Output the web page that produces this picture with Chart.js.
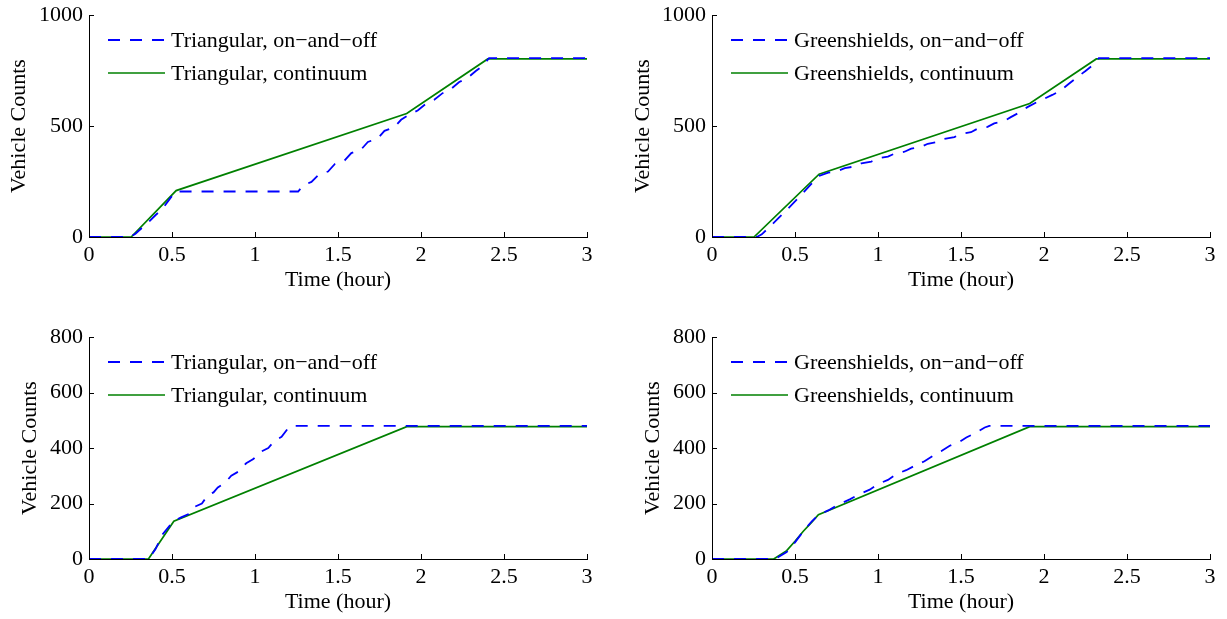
<!DOCTYPE html>
<html>
<head>
<meta charset="utf-8">
<title>Vehicle Counts</title>
<script src="https://cdn.jsdelivr.net/npm/chart.js@4.4.0/dist/chart.umd.min.js"></script>
<style>
  body{margin:0;background:#fff}
  #wrap{position:relative;width:1227px;height:619px;overflow:hidden;background:#fff}
  canvas{position:absolute}
</style>
</head>
<body>
<div id="wrap">
  <canvas id="tl" width="604" height="297" style="left:0;top:0"></canvas>
  <canvas id="tr" width="604" height="297" style="left:623px;top:0"></canvas>
  <canvas id="bl" width="604" height="297" style="left:0;top:322px"></canvas>
  <canvas id="br" width="604" height="297" style="left:623px;top:322px"></canvas>
</div>
<script>
// ---- data: [time (hour), vehicle count] ----
const xTicks = [0, 0.5, 1, 1.5, 2, 2.5, 3];
const yTicksTop = [0, 500, 1000];
const yTicksBottom = [0, 200, 400, 600, 800];

const labelsTri = ['Triangular, on\u2212and\u2212off', 'Triangular, continuum'];
const labelsGreen = ['Greenshields, on\u2212and\u2212off', 'Greenshields, continuum'];

// top left
const triOnOffA = [[0,0],[0.25,0],[0.28,15],[0.32,42],[0.36,68],[0.4,98],[0.44,125],[0.48,165],[0.52,205],
  [1.26,205],[1.29,232],[1.34,248],[1.38,278],[1.44,295],[1.48,328],[1.54,345],[1.58,378],[1.64,395],
  [1.68,428],[1.74,445],[1.78,478],[1.84,495],[1.88,528],[1.93,552],[1.98,570],[2.03,600],[2.08,618],
  [2.13,648],[2.18,666],[2.23,698],[2.28,716],[2.33,748],[2.37,770],[2.41,806],[3,806]];
const triContA = [[0,0],[0.254,0],[0.525,209],[1.914,556],[2.402,802],[3,802]];

// top right
const greenOnOffA = [[0,0],[0.27,0],[0.3,12],[0.35,48],[0.4,85],[0.45,122],[0.5,160],[0.55,200],[0.6,240],
  [0.645,275],[0.7,290],[0.76,298],[0.8,310],[0.86,318],[0.9,332],[0.96,340],[1.0,354],[1.06,362],[1.1,376],
  [1.16,384],[1.2,398],[1.26,406],[1.3,420],[1.36,428],[1.4,442],[1.46,450],[1.5,464],[1.56,472],[1.6,488],
  [1.66,496],[1.7,512],[1.76,522],[1.8,540],[1.85,560],[1.9,585],[1.95,605],[2.0,622],[2.05,640],[2.1,660],
  [2.15,690],[2.2,720],[2.25,748],[2.3,778],[2.33,806],[3,806]];
const greenContA = [[0,0],[0.253,0],[0.645,283],[1.914,601],[2.315,802],[3,802]];

// bottom left
const triOnOffB = [[0,0],[0.36,0],[0.4,35],[0.445,90],[0.5,130],[0.52,140],[0.555,150],[0.6,162],[0.636,188],
  [0.68,200],[0.716,230],[0.75,240],[0.776,258],[0.82,275],[0.857,300],[0.9,315],[0.947,345],[0.99,360],
  [1.027,384],[1.08,400],[1.117,426],[1.16,440],[1.198,470],[1.22,480],[3,480]];
const triContB = [[0,0],[0.358,0],[0.511,136],[1.914,477],[3,477]];

// bottom right
const greenOnOffB = [[0,0],[0.38,0],[0.45,25],[0.5,60],[0.55,100],[0.6,135],[0.64,158],[0.7,175],[0.768,198],
  [0.83,215],[0.889,234],[0.95,250],[1.0,270],[1.06,285],[1.11,306],[1.17,320],[1.221,336],[1.28,352],
  [1.331,372],[1.38,388],[1.432,408],[1.49,422],[1.532,438],[1.59,455],[1.643,474],[1.67,480],[3,480]];
const greenContB = [[0,0],[0.372,0],[0.45,30],[0.5,64],[0.55,100],[0.6,132],[0.641,160],[1.914,477],[3,477]];

// ---- style ----
const FONT = "'Liberation Serif', 'Times New Roman', serif";
const BLUE = '#0000ff', GREEN = '#008000';
const toXY = (arr)=>arr.map(p=>({x:p[0], y:p[1]}));

// MATLAB style ticks pointing into the plot
const inwardTicks = {
  id:'inwardTicks',
  afterDraw(chart){
    const {ctx, chartArea:a, scales:{x, y}} = chart;
    ctx.save();
    ctx.strokeStyle = '#000'; ctx.lineWidth = 1;
    ctx.beginPath();
    x.ticks.forEach(t=>{
      const px = Math.round(x.getPixelForValue(t.value)) + 0.5;
      ctx.moveTo(px, a.bottom); ctx.lineTo(px, a.bottom - 5);
    });
    y.ticks.forEach(t=>{
      const py = Math.round(y.getPixelForValue(t.value)) + 0.5;
      ctx.moveTo(a.left, py); ctx.lineTo(a.left + 5, py);
    });
    ctx.stroke();
    ctx.restore();
  }
};

// legend without box, inside the top-left of the plot
const lineLegend = {
  id:'lineLegend',
  afterDraw(chart){
    const {ctx, chartArea:a} = chart;
    ctx.save();
    ctx.font = `22px ${FONT}`;
    ctx.textBaseline = 'middle';
    ctx.fillStyle = '#000';
    chart.data.datasets.forEach((ds, i)=>{
      const y = a.top + 25 + i*33;
      ctx.strokeStyle = ds.borderColor;
      ctx.lineWidth = ds.borderWidth;
      ctx.setLineDash(ds.borderDash || []);
      ctx.beginPath(); ctx.moveTo(a.left + 19, y); ctx.lineTo(a.left + 76, y); ctx.stroke();
      ctx.setLineDash([]);
      ctx.fillText(ds.label, a.left + 82, y + 1);
    });
    ctx.restore();
  }
};

function make(id, labels, onoff, cont, yMax, yTicks, yTitlePad){
  return new Chart(document.getElementById(id), {
    type:'line',
    data:{
      datasets:[
        {label:labels[0], data:toXY(onoff), borderColor:BLUE, borderWidth:1.8, borderDash:[12,10],
         pointRadius:0, tension:0, fill:false},
        {label:labels[1], data:toXY(cont), borderColor:GREEN, borderWidth:1.7,
         pointRadius:0, tension:0, fill:false}
      ]
    },
    options:{
      responsive:false, animation:false, devicePixelRatio:1, events:[],
      layout:{padding:{left:0, right:17, top:15, bottom:0}},
      plugins:{legend:{display:false}, tooltip:{enabled:false}},
      scales:{
        x:{
          type:'linear', min:0, max:3,
          afterBuildTicks:(s)=>{ s.ticks = xTicks.map(v=>({value:v})); },
          afterFit:(s)=>{ s.height = 60; s.paddingLeft = 0; s.paddingRight = 0; },
          grid:{drawOnChartArea:false, drawTicks:false},
          border:{display:true, color:'#000', width:1},
          ticks:{font:{family:FONT, size:22}, color:'#000', padding:5, maxRotation:0, autoSkip:false,
                 callback:(v)=>String(v)},
          title:{display:true, text:'Time (hour)', font:{family:FONT, size:22}, color:'#000',
                 padding:{top:0, bottom:4}}
        },
        y:{
          type:'linear', min:0, max:yMax,
          afterBuildTicks:(s)=>{ s.ticks = yTicks.map(v=>({value:v})); },
          afterFit:(s)=>{ s.width = 89; s.paddingTop = 0; s.paddingBottom = 0; },
          grid:{drawOnChartArea:false, drawTicks:false},
          border:{display:true, color:'#000', width:1},
          ticks:{font:{family:FONT, size:22}, color:'#000', padding:6, autoSkip:false,
                 callback:(v)=>String(v)},
          title:{display:true, text:'Vehicle Counts', font:{family:FONT, size:22}, color:'#000',
                 padding:{top:yTitlePad, bottom:0}}
        }
      }
    },
    plugins:[inwardTicks, lineLegend]
  });
}

make('tl', labelsTri, triOnOffA, triContA, 1000, yTicksTop, 6);
make('tr', labelsGreen, greenOnOffA, greenContA, 1000, yTicksTop, 7);
make('bl', labelsTri, triOnOffB, triContB, 800, yTicksBottom, 17);
make('br', labelsGreen, greenOnOffB, greenContB, 800, yTicksBottom, 17);
</script>
</body>
</html>
